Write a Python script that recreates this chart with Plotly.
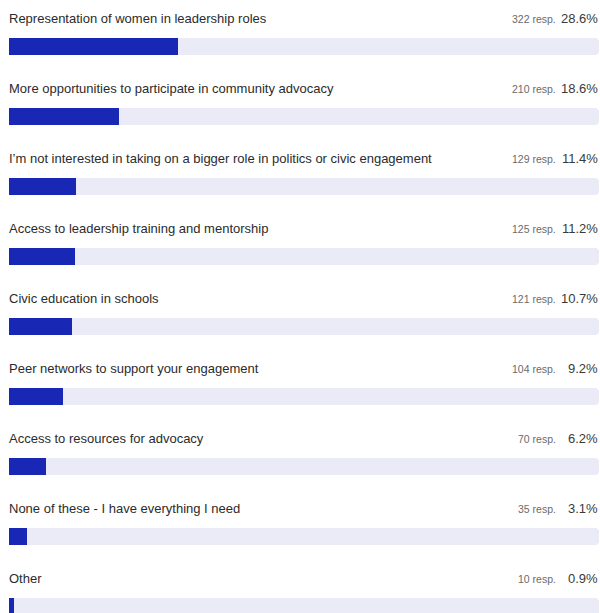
import plotly.graph_objects as go

# Survey answers, response counts and shares
categories = [
    "Representation of women in leadership roles",
    "More opportunities to participate in community advocacy",
    "I\u2019m not interested in taking on a bigger role in politics or civic engagement",
    "Access to leadership training and mentorship",
    "Civic education in schools",
    "Peer networks to support your engagement",
    "Access to resources for advocacy",
    "None of these - I have everything I need",
    "Other",
]
responses = [322, 210, 129, 125, 121, 104, 70, 35, 10]
percents = [28.6, 18.6, 11.4, 11.2, 10.7, 9.2, 6.2, 3.1, 0.9]

W, H = 600, 613
ROW = 70.0          # pixel pitch of one answer row
FIRST_BAR = 46.5    # pixel centre of the first bar
BAR_PX = 17.0
LEFT_PX, RIGHT_PX = 9.0, 599.0

px_per_unit = (RIGHT_PX - LEFT_PX) / 100.0
x_range = [-LEFT_PX / px_per_unit, (W - LEFT_PX) / px_per_unit]
y_range = [(H - FIRST_BAR) / ROW, -FIRST_BAR / ROW]

idx = list(range(len(categories)))

FONT = "Liberation Sans, Arial, Helvetica, sans-serif"
TRACK = "#EBEBF8"
FILL = "#1828B4"

fig = go.Figure()
fig.add_trace(go.Bar(
    x=[100] * len(idx), y=idx, orientation="h", width=BAR_PX / ROW,
    marker=dict(color=TRACK, cornerradius=4, line=dict(width=0)),
    hoverinfo="skip", showlegend=False,
))
fig.add_trace(go.Bar(
    x=percents, y=idx, orientation="h", width=BAR_PX / ROW,
    marker=dict(color=FILL, cornerradius=3, line=dict(width=0)),
    customdata=categories, hovertemplate="%{customdata}: %{x}%<extra></extra>",
    showlegend=False,
))

label_dy = 28.0 / ROW
annotations = []
for i, (cat, n, p) in enumerate(zip(categories, responses, percents)):
    annotations.append(dict(
        x=0, y=i - label_dy, xref="x", yref="y", text=cat, xshift=-2,
        xanchor="left", yanchor="middle", showarrow=False,
        font=dict(family=FONT, size=13, color="#2b2b2b"),
    ))
    annotations.append(dict(
        x=(557 - LEFT_PX) / px_per_unit, y=i - label_dy, xref="x", yref="y",
        text=f"{n} resp.", xanchor="right", yanchor="middle", showarrow=False,
        xshift=1, font=dict(family=FONT, size=10.5, color="#6b6b6b"),
    ))
    annotations.append(dict(
        x=(598 - LEFT_PX) / px_per_unit, y=i - label_dy, xref="x", yref="y",
        text=f"{p}%", xanchor="right", yanchor="middle", showarrow=False,
        xshift=2, font=dict(family=FONT, size=13, color="#3a3a3a"),
    ))

fig.update_layout(
    width=W, height=H, margin=dict(l=0, r=0, t=0, b=0),
    paper_bgcolor="white", plot_bgcolor="white",
    barmode="overlay", bargap=0,
    xaxis=dict(range=x_range, visible=False, fixedrange=True),
    yaxis=dict(range=y_range, visible=False, fixedrange=True),
    annotations=annotations,
)

fig.write_html("out.html", config={"displayModeBar": False})
